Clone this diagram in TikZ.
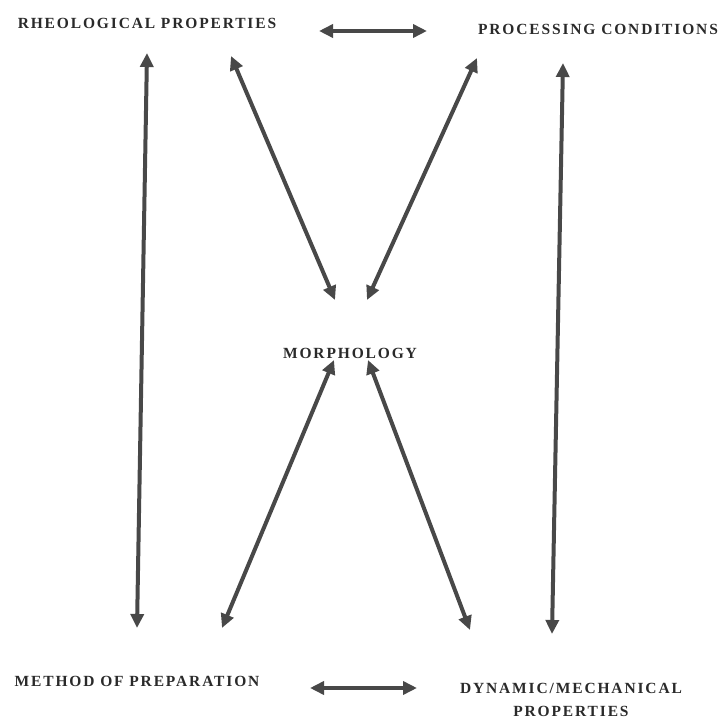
\documentclass[tikz,border=0pt]{standalone}
\usepackage{fontspec}
\setmainfont{Liberation Serif}
\usetikzlibrary{arrows.meta}
\definecolor{ink}{HTML}{484848}
\definecolor{txt}{HTML}{2A2A2A}
\tikzset{
  lbl/.style={font=\fontsize{15.5}{18}\selectfont\bfseries\addfontfeature{LetterSpace=12}, text=txt, inner sep=0pt},
  link/.style={draw=ink, line width=4pt, {Triangle[length=14pt,width=13pt]}-{Triangle[length=14pt,width=13pt]}},
}
\begin{document}
\begin{tikzpicture}[x=1pt,y=-1pt]
\useasboundingbox (0,0) rectangle (724,719);
\node[lbl] (rheo) at (147,23) {RHEOLOGICAL PROPERTIES};
\node[lbl] (proc) at (598,29) {PROCESSING CONDITIONS};
\node[lbl] (morph) at (350,353) {MORPHOLOGY};
\node[lbl] (meth) at (137,681) {METHOD OF PREPARATION};
\node[lbl, align=center] (dyn) at (571,700) {DYNAMIC/MECHANICAL\\[5pt]PROPERTIES};
% arrow end points
\coordinate (t1) at (319,31); \coordinate (t2) at (427,31);
\coordinate (b1) at (310,688); \coordinate (b2) at (417,688);
\coordinate (lv1) at (147,53); \coordinate (lv2) at (137,628);
\coordinate (rv1) at (563,63); \coordinate (rv2) at (552,634);
\coordinate (ul1) at (231,56); \coordinate (ul2) at (335,300);
\coordinate (ur1) at (477,58); \coordinate (ur2) at (367,300);
\coordinate (ll1) at (334,360); \coordinate (ll2) at (222,628);
\coordinate (lr1) at (368,360); \coordinate (lr2) at (470,630);
\draw[link] (t1) -- (t2);
\draw[link] (b1) -- (b2);
\draw[link] (lv1) -- (lv2);
\draw[link] (rv1) -- (rv2);
\draw[link] (ul1) -- (ul2);
\draw[link] (ur1) -- (ur2);
\draw[link] (ll1) -- (ll2);
\draw[link] (lr1) -- (lr2);
\end{tikzpicture}
\end{document}
